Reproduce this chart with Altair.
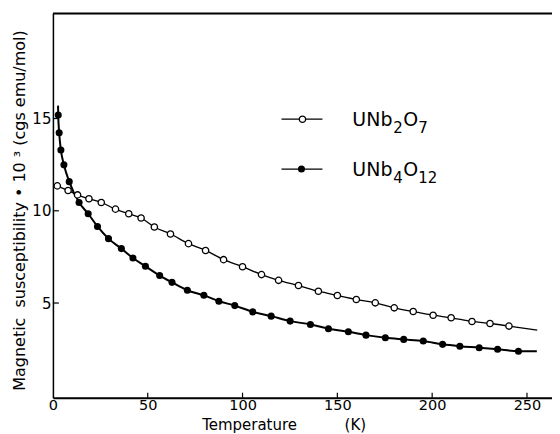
import altair as alt
import pandas as pd

# ---- data ----
# UNb2O7 (open circles)
t_open = [2.3, 8, 13, 19, 25.5, 33, 40, 46.5, 53.5, 62, 71.5, 80.5, 90, 100, 110,
          119, 129.5, 140, 150, 160, 170, 180, 190, 200.5, 210, 221, 230.5, 240.5]
chi_open = [11.35, 11.10, 10.86, 10.65, 10.45, 10.09, 9.84, 9.61, 9.12, 8.74, 8.22,
            7.85, 7.35, 6.97, 6.54, 6.23, 5.95, 5.64, 5.41, 5.19, 5.01, 4.74, 4.54,
            4.34, 4.20, 4.00, 3.89, 3.75]
# fitted curve end for UNb2O7
t_open_end = [255.4]
chi_open_end = [3.53]

# UNb4O12 (filled circles)
t_fill = [2.8, 3.3, 4.2, 5.8, 8.6, 13.8, 18.6, 23.5, 29.3, 36.1, 42.2, 48.8, 56.3,
          62.8, 70.9, 79.6, 87.5, 95.9, 105.4, 115.1, 125.1, 135.8, 145.3, 155.8,
          165.1, 175.3, 185, 195.3, 205.5, 214.6, 224.8, 234.5, 245.5]
chi_fill = [15.19, 14.23, 13.30, 12.49, 11.58, 10.45, 9.84, 9.15, 8.49, 7.95, 7.44,
            6.99, 6.49, 6.12, 5.69, 5.42, 5.10, 4.86, 4.52, 4.29, 4.02, 3.84, 3.61,
            3.44, 3.26, 3.12, 3.03, 2.94, 2.76, 2.66, 2.58, 2.49, 2.39]
# fitted curve start / end for UNb4O12
t_fill_start = [2.7]
chi_fill_start = [15.7]
t_fill_end = [255.2]
chi_fill_end = [2.38]

x_ticks = [0, 50, 100, 150, 200, 250]
y_ticks = [5, 10, 15]

NB = "\u00a0"
x_title = "Temperature" + NB * 10 + "(K)"
y_title = ("Magnetic" + NB * 2 + "susceptibility" + NB + "•" + NB + "10" + NB + "³"
           + NB + "(cgs" + NB + "emu/mol)")

W, H = 500, 385
FONT = "DejaVu Sans"

pts_open = pd.DataFrame({"T": t_open, "chi": chi_open})
pts_fill = pd.DataFrame({"T": t_fill, "chi": chi_fill})
line_open = pd.DataFrame({"T": t_open + t_open_end, "chi": chi_open + chi_open_end})
line_fill = pd.DataFrame({"T": t_fill_start + t_fill + t_fill_end,
                          "chi": chi_fill_start + chi_fill + chi_fill_end})

xs = alt.Scale(domain=[0, 263.2], nice=False, zero=False)
ys = alt.Scale(domain=[-0.13, 20.7], nice=False, zero=False)

x_axis = alt.Axis(values=x_ticks, format="d", tickSize=0, labelPadding=1,
                  labelFontSize=14.5, labelFont=FONT, labelColor="black",
                  domainColor="black", domainWidth=2, grid=False,
                  title=x_title, titleFont=FONT, titleFontSize=15,
                  titleFontWeight="normal", titleColor="black",
                  titleAnchor="start", titleAlign="left", titleX=149, titleY=32,
                  titleBaseline="alphabetic", labelFlush=False)
y_axis = alt.Axis(values=y_ticks, format="d", tickSize=0, labelPadding=2,
                  labelFontSize=15, labelFont=FONT, labelColor="black",
                  domainColor="black", domainWidth=1.5, grid=False,
                  title=y_title,
                  titleFont=FONT, titleFontSize=16, titleFontWeight="normal",
                  titleColor="black", titleAngle=270, titleX=-33, titleY=197,
                  titleAlign="center", titleBaseline="middle", labelFlush=False)

base_open = alt.Chart(line_open).mark_line(color="black", strokeWidth=1.3,
                                           interpolate="monotone").encode(
    x=alt.X("T:Q", scale=xs, axis=x_axis),
    y=alt.Y("chi:Q", scale=ys, axis=y_axis),
)
base_fill = alt.Chart(line_fill).mark_line(color="black", strokeWidth=2,
                                           interpolate="monotone").encode(
    x=alt.X("T:Q", scale=xs), y=alt.Y("chi:Q", scale=ys))

p_open = alt.Chart(pts_open).mark_point(shape="circle", filled=True, fill="white",
                                        stroke="black", strokeWidth=1.3, size=40,
                                        opacity=1).encode(
    x=alt.X("T:Q", scale=xs), y=alt.Y("chi:Q", scale=ys))
p_fill = alt.Chart(pts_fill).mark_point(shape="circle", filled=True, color="black",
                                        size=50, opacity=1).encode(
    x=alt.X("T:Q", scale=xs), y=alt.Y("chi:Q", scale=ys))

# inside tick marks
xt = alt.Chart(pd.DataFrame({"v": x_ticks[1:]})).mark_rule(color="black", strokeWidth=1.2).encode(
    x=alt.X("v:Q", scale=xs), y=alt.value(H), y2=alt.value(H - 5))
yt = alt.Chart(pd.DataFrame({"v": y_ticks})).mark_rule(color="black", strokeWidth=1.2).encode(
    y=alt.Y("v:Q", scale=ys), x=alt.value(0), x2=alt.value(6))

# top frame line
top = alt.Chart(pd.DataFrame({"a": [0]})).mark_rule(color="black", strokeWidth=2).encode(
    x=alt.value(0), x2=alt.value(W), y=alt.value(0))

# legend
leg_y = [106, 156]
leg = pd.DataFrame({"y": leg_y})
leg_lines = alt.Chart(leg).mark_rule(color="black", strokeWidth=1.3).encode(
    x=alt.value(229), x2=alt.value(270), y=alt.Y("y:Q", scale=None))
leg_open = alt.Chart(pd.DataFrame({"y": [leg_y[0]]})).mark_point(
    shape="circle", filled=True, fill="white", stroke="black", strokeWidth=1.3,
    size=40, opacity=1).encode(x=alt.value(250), y=alt.Y("y:Q", scale=None))
leg_fill = alt.Chart(pd.DataFrame({"y": [leg_y[1]]})).mark_point(
    shape="circle", filled=True, color="black", size=50, opacity=1).encode(
    x=alt.value(249), y=alt.Y("y:Q", scale=None))

def txt(s, x, y, size):
    return alt.Chart(pd.DataFrame({"t": [s]})).mark_text(
        font=FONT, fontSize=size, color="black", align="left",
        baseline="alphabetic").encode(x=alt.value(x), y=alt.value(y), text="t:N")

lx = 300
labels = [
    txt("UNb", lx, leg_y[0] + 7, 19), txt("2", lx + 41, leg_y[0] + 14, 15),
    txt("O", lx + 51, leg_y[0] + 7, 19), txt("7", lx + 66, leg_y[0] + 14, 15),
    txt("UNb", lx, leg_y[1] + 7, 19), txt("4", lx + 41, leg_y[1] + 14, 15),
    txt("O", lx + 51, leg_y[1] + 7, 19), txt("12", lx + 66, leg_y[1] + 14, 15),
]

chart = alt.layer(base_open, base_fill, p_open, p_fill, xt, yt, top,
                  leg_lines, leg_open, leg_fill, *labels).properties(
    width=W, height=H,
    autosize=alt.AutoSizeParams(type="none"),
    padding={"left": 45, "top": 5, "right": 0, "bottom": 36},
).configure_view(stroke=None).configure(background="white")

chart.save("out.html", embed_options={"renderer": "svg", "actions": False})
